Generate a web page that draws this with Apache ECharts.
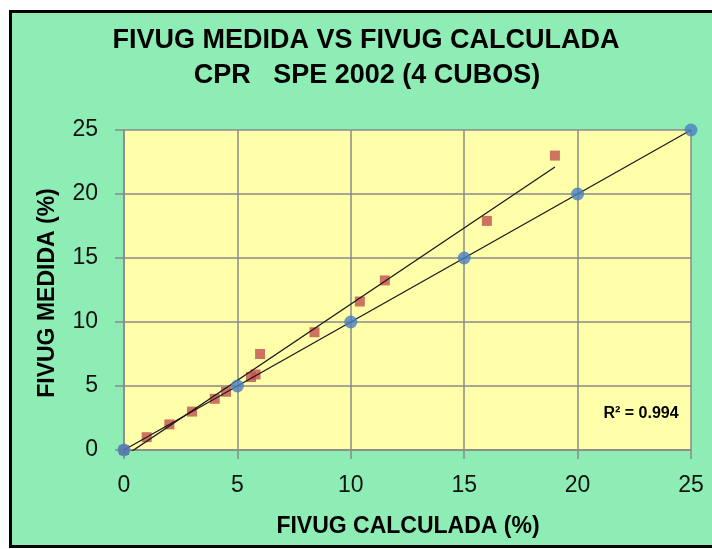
<!DOCTYPE html>
<html>
<head>
<meta charset="utf-8">
<script src="https://cdn.jsdelivr.net/npm/echarts@6/dist/echarts.min.js"></script>
<style>
  html, body { margin: 0; padding: 0; background: #ffffff; overflow: hidden; }
  #frame {
    position: absolute; left: 9px; top: 10px; width: 720px; height: 532px;
    background: #8eedb4; border: 3px solid #000;
  }
  #chart { position: absolute; left: 0; top: 0; width: 712px; height: 549px; }
</style>
</head>
<body>
<div id="frame"></div>
<div id="chart"></div>
<script>
// Reference series (calculated = measured)
const refCalc = [0, 5, 10, 15, 20, 25];
const refMeas = [0, 5, 10, 15, 20, 25];

// CPR SPE 2002 (4 cubos): calculated vs measured FIVUG (%)
const cprCalc = [0, 1, 2, 3, 4, 4.5, 5.6, 5.8, 6, 8.4, 10.4, 11.5, 16, 19];
const cprMeas = [0, 1, 2, 3, 4, 4.55, 5.7, 5.9, 7.5, 9.2, 11.6, 13.25, 17.9, 23];

// Axis ticks
const axisTicks = [0, 5, 10, 15, 20, 25];

const titleLine1 = 'FIVUG MEDIDA VS FIVUG CALCULADA';
const titleLine2 = 'CPR   SPE 2002 (4 CUBOS)';
const xTitle = 'FIVUG CALCULADA (%)';
const yTitle = 'FIVUG MEDIDA (%)';
const r2Text = 'R\u00b2 = 0.994';

function pairs(xs, ys) { return xs.map((x, i) => [x, ys[i]]); }

// Least-squares linear trendline spanning the data's x range
function trend(xs, ys) {
  const n = xs.length;
  const mx = xs.reduce((a, b) => a + b, 0) / n;
  const my = ys.reduce((a, b) => a + b, 0) / n;
  let sxy = 0, sxx = 0;
  for (let i = 0; i < n; i++) { sxy += (xs[i] - mx) * (ys[i] - my); sxx += (xs[i] - mx) ** 2; }
  const b = sxy / sxx, a = my - b * mx;
  const x0 = Math.min(...xs), x1 = Math.max(...xs);
  return [[x0, a + b * x0], [x1, a + b * x1]];
}

const FONT = '"Liberation Sans", Arial, sans-serif';
const gridColor = '#8a8a8a';

const chart = echarts.init(document.getElementById('chart'), null, { renderer: 'canvas' });

const axisCommon = {
  type: 'value',
  min: axisTicks[0],
  max: axisTicks[axisTicks.length - 1],
  interval: axisTicks[1] - axisTicks[0],
  axisLine: { show: true, lineStyle: { color: gridColor, width: 1.5 } },
  axisTick: { show: true, inside: false, length: 9, lineStyle: { color: gridColor, width: 1.5 } },
  splitLine: { show: true, lineStyle: { color: gridColor, width: 1.5 } },
  axisLabel: { fontFamily: FONT, fontSize: 23, color: '#111' }
};

chart.setOption({
  backgroundColor: 'transparent',
  animation: false,
  grid: {
    left: 124, right: 21, top: 130, bottom: 99,
    show: true, backgroundColor: '#ffffaa', borderWidth: 0
  },
  xAxis: Object.assign({}, axisCommon, {
    axisLabel: Object.assign({}, axisCommon.axisLabel, { margin: 24 })
  }),
  yAxis: Object.assign({}, axisCommon, {
    axisLabel: Object.assign({}, axisCommon.axisLabel, { margin: 26 })
  }),
  series: [
    {
      type: 'line', data: trend(refCalc, refMeas), showSymbol: false, clip: true,
      lineStyle: { color: '#1a1a1a', width: 1.3 }, z: 3, silent: true
    },
    {
      type: 'line', data: trend(cprCalc, cprMeas), showSymbol: false, clip: true,
      lineStyle: { color: '#1a1a1a', width: 1.3 }, z: 3, silent: true
    },
    {
      type: 'scatter', data: pairs(cprCalc, cprMeas), symbol: 'rect', symbolSize: 10,
      itemStyle: { color: '#c0504d' }, z: 2, clip: false
    },
    {
      type: 'scatter', data: pairs(refCalc, refMeas), symbol: 'circle', symbolSize: 13,
      itemStyle: { color: '#4a7fc0' }, z: 4, clip: false
    }
  ],
  graphic: [
    { type: 'text', x: 366, y: 41, style: { text: titleLine1, align: 'center', verticalAlign: 'middle',
      font: 'bold 27px ' + FONT, fill: '#000' } },
    { type: 'text', x: 367, y: 76, style: { text: titleLine2, align: 'center', verticalAlign: 'middle',
      font: 'bold 27px ' + FONT, fill: '#000' } },
    { type: 'text', x: 408, y: 527, style: { text: xTitle, align: 'center', verticalAlign: 'middle',
      font: 'bold 23px ' + FONT, fill: '#000' } },
    { type: 'text', x: 48, y: 293, rotation: Math.PI / 2, style: { text: yTitle, align: 'center', verticalAlign: 'middle',
      font: 'bold 23px ' + FONT, fill: '#000' } },
    { type: 'text', x: 641, y: 414, style: { text: r2Text, align: 'center', verticalAlign: 'middle',
      font: 'bold 16px ' + FONT, fill: '#000' } }
  ]
});
</script>
</body>
</html>
